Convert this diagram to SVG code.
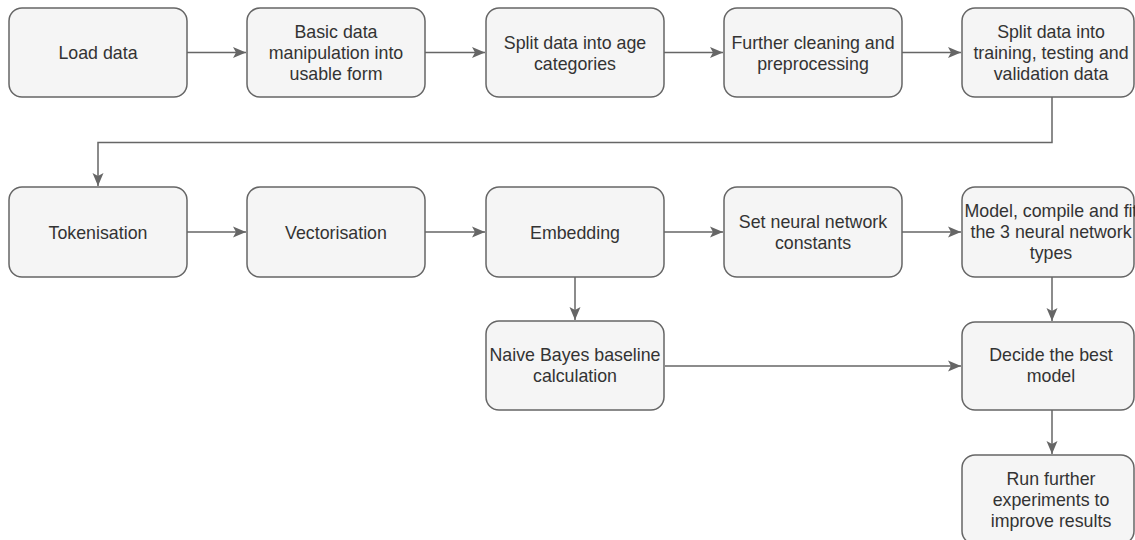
<svg xmlns="http://www.w3.org/2000/svg" width="1135" height="540" viewBox="0 0 1135 540">
<style>
.box{fill:#f5f5f5;stroke:#666666;stroke-width:1.5}
.t{font-family:"Liberation Sans",Arial,sans-serif;font-size:17.8px;fill:#333333;text-anchor:middle}
.c{fill:none;stroke:#666666;stroke-width:1.5}
</style>
<defs>
<marker id="a" markerUnits="userSpaceOnUse" markerWidth="14" markerHeight="12" viewBox="0 0 14 12" refX="13" refY="6" orient="auto">
<path d="M0,0.5 L13,6 L0,11.5 L3,6 Z" fill="#666666"/>
</marker>
</defs>
<rect width="1135" height="540" fill="#ffffff"/>
<g id="connectors">
<path class="c" d="M187,52.5 H246" marker-end="url(#a)"/>
<path class="c" d="M425,52.5 H485" marker-end="url(#a)"/>
<path class="c" d="M664,52.5 H723" marker-end="url(#a)"/>
<path class="c" d="M902,52.5 H961" marker-end="url(#a)"/>
<path class="c" d="M1052,97 V142.5 H98 V186" marker-end="url(#a)"/>
<path class="c" d="M187,232 H246" marker-end="url(#a)"/>
<path class="c" d="M425,232 H485" marker-end="url(#a)"/>
<path class="c" d="M664,232 H723" marker-end="url(#a)"/>
<path class="c" d="M902,232 H961" marker-end="url(#a)"/>
<path class="c" d="M575,277 V320" marker-end="url(#a)"/>
<path class="c" d="M1052,277 V321" marker-end="url(#a)"/>
<path class="c" d="M665,366 H961" marker-end="url(#a)"/>
<path class="c" d="M1052,410 V454" marker-end="url(#a)"/>
</g>
<g id="n1"><rect class="box" x="9" y="8" width="178" height="89" rx="13"/><text class="t" x="98" y="59">Load data</text></g>
<g id="n2"><rect class="box" x="247" y="8" width="178" height="89" rx="13"/><text class="t" x="336" y="38">Basic data</text><text class="t" x="336" y="59">manipulation into</text><text class="t" x="336" y="80">usable form</text></g>
<g id="n3"><rect class="box" x="486" y="8" width="178" height="89" rx="13"/><text class="t" x="575" y="48.5">Split data into age</text><text class="t" x="575" y="69.5">categories</text></g>
<g id="n4"><rect class="box" x="724" y="8" width="178" height="89" rx="13"/><text class="t" x="813" y="48.5">Further cleaning and</text><text class="t" x="813" y="69.5">preprocessing</text></g>
<g id="n5"><rect class="box" x="962" y="8" width="172" height="89" rx="13"/><text class="t" x="1051" y="38">Split data into</text><text class="t" x="1051" y="59">training, testing and</text><text class="t" x="1051" y="80">validation data</text></g>
<g id="n6"><rect class="box" x="9" y="187" width="178" height="90" rx="13"/><text class="t" x="98" y="238.5">Tokenisation</text></g>
<g id="n7"><rect class="box" x="247" y="187" width="178" height="90" rx="13"/><text class="t" x="336" y="238.5">Vectorisation</text></g>
<g id="n8"><rect class="box" x="486" y="187" width="178" height="90" rx="13"/><text class="t" x="575" y="238.5">Embedding</text></g>
<g id="n9"><rect class="box" x="724" y="187" width="178" height="90" rx="13"/><text class="t" x="813" y="227.5">Set neural network</text><text class="t" x="813" y="248.5">constants</text></g>
<g id="n10"><rect class="box" x="962" y="187" width="172" height="90" rx="13"/><text class="t" x="1051" y="217">Model, compile and fit</text><text class="t" x="1051" y="238">the 3 neural network</text><text class="t" x="1051" y="259">types</text></g>
<g id="n11"><rect class="box" x="486" y="321" width="178" height="89" rx="13"/><text class="t" x="575" y="361">Naive Bayes baseline</text><text class="t" x="575" y="382">calculation</text></g>
<g id="n12"><rect class="box" x="962" y="322" width="172" height="88" rx="13"/><text class="t" x="1051" y="361">Decide the best</text><text class="t" x="1051" y="382">model</text></g>
<g id="n13"><rect class="box" x="962" y="455" width="172" height="89" rx="13"/><text class="t" x="1051" y="485">Run further</text><text class="t" x="1051" y="506">experiments to</text><text class="t" x="1051" y="527">improve results</text></g>
</svg>
